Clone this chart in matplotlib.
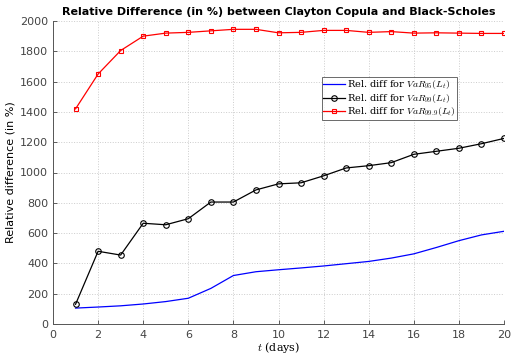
import matplotlib
matplotlib.use("Agg")
import matplotlib.pyplot as plt
import numpy as np

days = list(range(1, 21))
var95 = [105, 112, 120, 132, 148, 170, 235, 320, 345, 358, 370, 383, 398, 413, 435, 463, 505, 550, 588, 612]
var99 = [130, 480, 455, 665, 655, 695, 805, 805, 885, 925, 932, 978, 1030, 1045, 1065, 1120, 1140, 1160, 1190, 1225]
var999 = [1420, 1650, 1805, 1900, 1920, 1925, 1935, 1945, 1945, 1922, 1925, 1938, 1938, 1925, 1930, 1920, 1922, 1920, 1918, 1918]
labels = [r"Rel. diff for $VaR_{95}(L_t)$", r"Rel. diff for $VaR_{99}(L_t)$", r"Rel. diff for $VaR_{99.9}(L_t)$"]

plt.rcParams['mathtext.fontset'] = 'cm'
fig = plt.figure(figsize=(5.16, 3.56), dpi=100)
ax = fig.add_axes([53/516, 1-324/356, (504-53)/516, (324-21)/356])

ax.plot(days, var95, color='#0000ff', lw=0.9, label=labels[0])
ax.plot(days, var99, color='black', lw=0.9, marker='o', ms=4, mfc='none', mew=0.8, label=labels[1])
ax.plot(days, var999, color='#ff0000', lw=0.9, marker='s', ms=3.5, mfc='none', mew=0.8, label=labels[2])

ax.set_xlim(0, 20)
ax.set_ylim(0, 2000)
ax.set_xticks(range(0, 21, 2))
ax.set_yticks(range(0, 2001, 200))
ax.grid(True, ls=':', color='#cccccc', lw=0.7)
for s in ['top', 'right']:
    ax.spines[s].set_visible(False)
for s in ['left', 'bottom']:
    ax.spines[s].set_color('#555555')
    ax.spines[s].set_linewidth(0.7)
ax.tick_params(labelsize=8, colors='#444444', length=3, width=0.6, direction='in')
ax.tick_params(axis='x', pad=4)
ax.set_title("Relative Difference (in %) between Clayton Copula and Black-Scholes", fontsize=8, fontweight='bold', pad=4)
ax.set_xlabel(r"$t$ (days)", fontsize=8, family='serif', labelpad=0)
ax.set_ylabel("Relative difference (in %)", fontsize=8, labelpad=3)
leg = ax.legend(loc='upper left', bbox_to_anchor=((322-53)/451, 1 - (77-21)/303),
                prop={'family': 'serif', 'size': 7}, frameon=True, fancybox=False, edgecolor='#444444',
                handlelength=2.2, handletextpad=0.2, borderpad=0.15, labelspacing=0.05, borderaxespad=0)
leg.get_frame().set_linewidth(0.7)
fig.savefig("out.png", dpi=100)
